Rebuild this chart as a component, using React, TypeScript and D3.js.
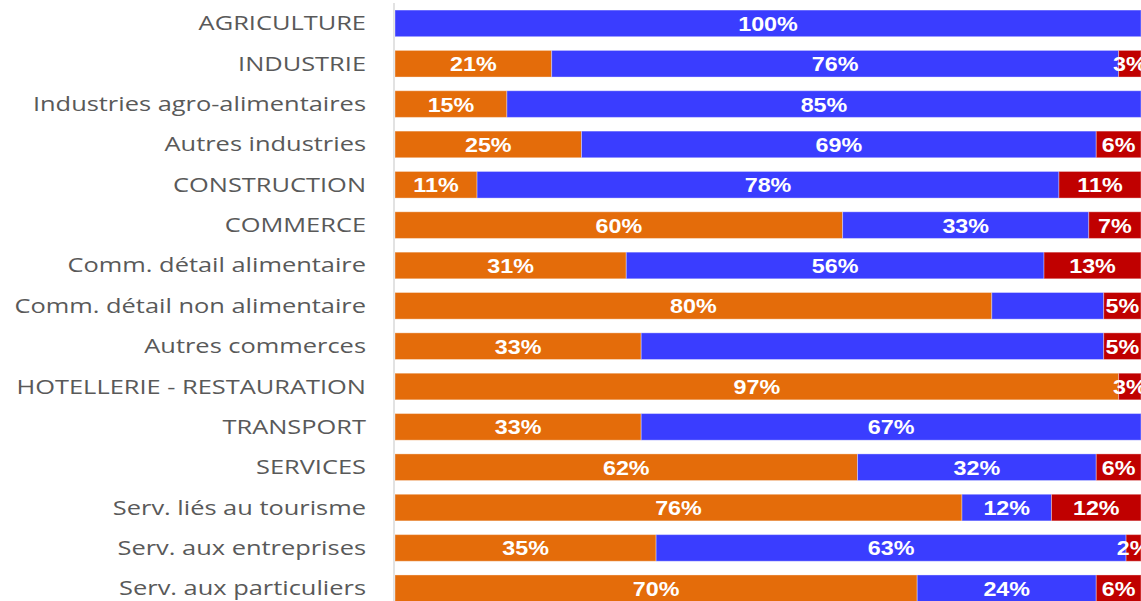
import React from "react";
import * as d3 from "d3";

const categories = [
  "AGRICULTURE",
  "INDUSTRIE",
  "Industries agro-alimentaires",
  "Autres industries",
  "CONSTRUCTION",
  "COMMERCE",
  "Comm. détail alimentaire",
  "Comm. détail non alimentaire",
  "Autres commerces",
  "HOTELLERIE - RESTAURATION",
  "TRANSPORT",
  "SERVICES",
  "Serv. liés au tourisme",
  "Serv. aux entreprises",
  "Serv. aux particuliers",
];

const seriesNames = ["orange", "blue", "red"];
const orangeValues = [0, 21, 15, 25, 11, 60, 31, 80, 33, 97, 33, 62, 76, 35, 70];
const blueValues = [100, 76, 85, 69, 78, 33, 56, 15, 62, 0, 67, 32, 12, 63, 24];
const redValues = [0, 3, 0, 6, 11, 7, 13, 5, 5, 3, 0, 6, 12, 2, 6];
// labels shown in the reference (blue segment labels missing on two rows)
const blueLabelShown = [true, true, true, true, true, true, true, false, false, true, true, true, true, true, true];

const colors = ["#E46C0A", "#3A3DFF", "#C00000"];

const W = 1141;
const H = 601;

export default function App() {
  const rows = categories.map((c, i) => ({
    cat: c,
    orange: orangeValues[i],
    blue: blueValues[i],
    red: redValues[i],
  }));
  const stack = d3.stack<any>().keys(seriesNames)(rows);
  const x = d3.scaleLinear().domain([0, 100]).range([395, 1141]);
  const y = d3
    .scaleBand()
    .domain(categories)
    .range([3.2, 3.2 + 15 * 40.35])
    .paddingInner(0.34)
    .paddingOuter(0.17);

  return (
    <svg
      width={W}
      height={H}
      style={{ position: "absolute", left: 0, top: 0, background: "#fff" }}
    >
      <defs>
        <clipPath id="clip">
          <rect x={0} y={0} width={W} height={H} />
        </clipPath>
      </defs>
      {categories.map((c) => (
        <text
          key={c}
          transform={`translate(366,${(y(c) as number) + y.bandwidth() / 2}) scale(1.27,1)`}
          dy="0.35em"
          textAnchor="end"
          fontFamily="'Open Sans', sans-serif"
          fontSize={20}
          fill="#595959"
        >
          {c}
        </text>
      ))}
      <line x1={394} x2={394} y1={3} y2={H} stroke="#d9d9d9" strokeWidth={1.5} />
      <g clipPath="url(#clip)">
        {stack.map((layer, si) => (
          <g key={layer.key}>
            {layer.map((d, i) => {
              const w = x(d[1]) - x(d[0]);
              if (w <= 0) return null;
              const yy = y(categories[i]) as number;
              return (
                <rect
                  key={i}
                  x={x(d[0])}
                  y={yy}
                  width={w}
                  height={y.bandwidth()}
                  fill={colors[si]}
                  stroke="#ffffff"
                  strokeOpacity={0.35}
                  strokeWidth={1}
                />
              );
            })}
          </g>
        ))}
        {stack.map((layer, si) => (
          <g key={"l" + layer.key}>
            {layer.map((d, i) => {
              const v = d[1] - d[0];
              if (v <= 0) return null;
              if (si === 1 && !blueLabelShown[i]) return null;
              const yy = (y(categories[i]) as number) + y.bandwidth() / 2;
              const cx = (x(d[0]) + x(d[1])) / 2;
              return (
                <text
                  key={i}
                  transform={`translate(${cx},${yy}) scale(1.11,1)`}
                  dy="0.36em"
                  textAnchor="middle"
                  fontFamily="'Liberation Sans', Arial, sans-serif"
                  fontWeight="bold"
                  fontSize={21}
                  fill="#ffffff"
                >
                  {v + "%"}
                </text>
              );
            })}
          </g>
        ))}
      </g>
    </svg>
  );
}
